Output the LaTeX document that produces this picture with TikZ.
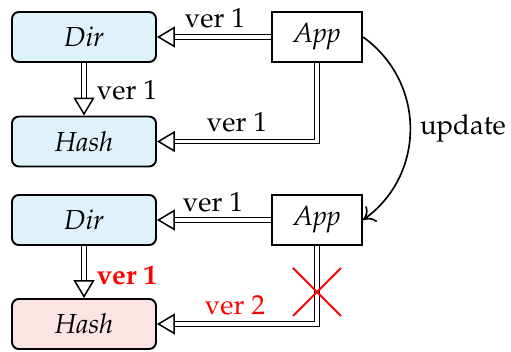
\documentclass[tikz,border=0pt]{standalone}
\usepackage[T1]{fontenc}
\usepackage{mathpazo}
\usetikzlibrary{arrows.meta}
\definecolor{dirblue}{HTML}{DFF1FA}
\definecolor{hashpink}{HTML}{FDE4E4}
\tikzset{
  store/.style={draw, line width=0.7pt, rounded corners=2.5pt, minimum width=52.36pt, minimum height=18.18pt, inner sep=0pt, font=\itshape},
  appbox/.style={draw, line width=0.7pt, minimum width=32.73pt, minimum height=18.18pt, inner sep=0pt, font=\itshape},
  dbl/.style={double, double distance=1.1pt, line width=0.5pt, -{Triangle[open, length=6.5pt, width=7.6pt, line width=0.55pt]}},
  lbl/.style={inner sep=0pt},
  xmark/.style={red, line width=0.7pt},
}
\begin{document}
\begin{tikzpicture}[x=0.3636pt, y=-0.3636pt]
\useasboundingbox (0,0) rectangle (511,352);
% top
\node[store, fill=dirblue] (dir1) at (84,37) {Dir};
\node[store, fill=dirblue] (hash1) at (84,141.5) {Hash};
\node[appbox] (app1) at (317,37) {App};
% bottom
\node[store, fill=dirblue] (dir2) at (84,220) {Dir};
\node[store, fill=hashpink] (hash2) at (84,324) {Hash};
\node[appbox] (app2) at (317,220) {App};
% connectors top
\draw[dbl] (app1.west) -- (dir1.east);
\draw[dbl] (dir1.south) -- (hash1.north);
\draw[dbl] (app1.south) |- (hash1.east);
% connectors bottom
\draw[dbl] (app2.west) -- (dir2.east);
\draw[dbl] (dir2.south) -- (hash2.north);
\draw[dbl] (app2.south) |- (hash2.east);
% update
\draw[line width=0.6pt, -{To[length=4pt,width=7pt]}] (app1.east) .. controls +(63,45) and +(63,-45) .. (app2.east);
% labels
\node[lbl] (l1) at (215,18) {ver 1};
\node[lbl] (l2) at (127,90) {ver 1};
\node[lbl] (l3) at (237,122) {ver 1};
\node[lbl] (lu) at (463,128) {update};
\node[lbl] (l4) at (213,202) {ver 1};
\node[lbl, red, font=\bfseries] (l5) at (127,275) {ver 1};
\node[lbl, red] (l6) at (235,305) {ver 2};
% cross
\coordinate (cross) at (317,292);
\draw[xmark] (cross) +(-24,-24) -- +(24,24) (cross) +(-24,24) -- +(24,-24);
\end{tikzpicture}
\end{document}
